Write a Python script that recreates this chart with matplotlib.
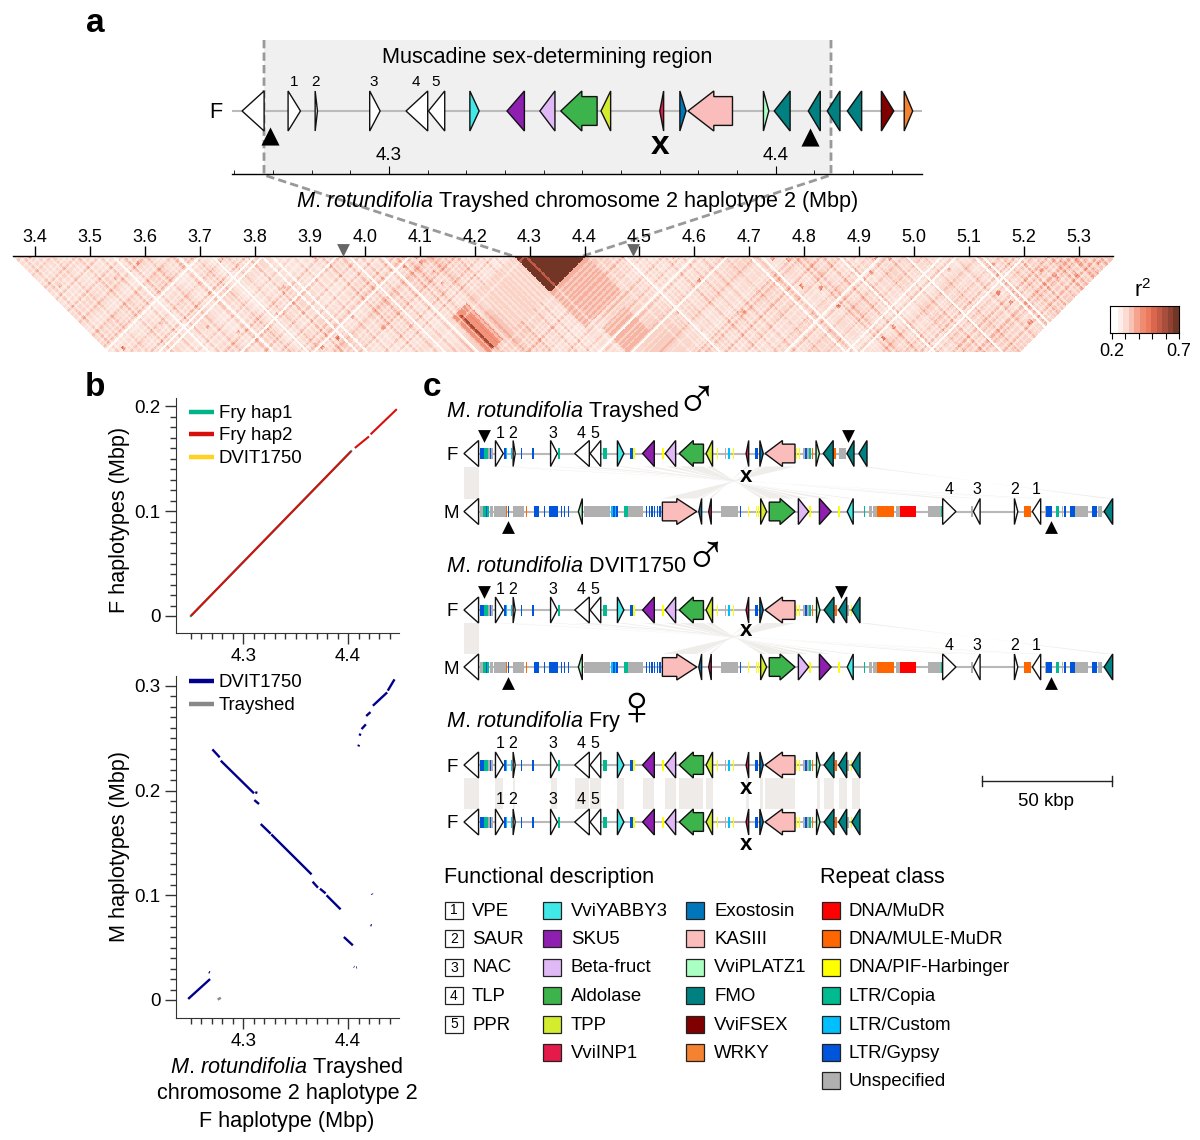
import numpy as np
import matplotlib
matplotlib.use("Agg")
import matplotlib.pyplot as plt
from matplotlib.colors import LinearSegmentedColormap, ListedColormap
from matplotlib.patches import Polygon, Rectangle

plt.rcParams['font.family'] = ['Liberation Sans', 'DejaVu Sans']
plt.rcParams['mathtext.fontset'] = 'custom'
plt.rcParams['mathtext.rm'] = 'Liberation Sans'
plt.rcParams['mathtext.it'] = 'Liberation Sans:italic'
W, H = 1200, 1140

# gene colours
gene_names = ['VviYABBY3', 'SKU5', 'Beta-fruct', 'Aldolase', 'TPP', 'VviINP1', 'Exostosin', 'KASIII',
              'VviPLATZ1', 'FMO', 'VviFSEX', 'WRKY']
gene_cols = ['#40e8e8', '#8e1fb0', '#e0b8f5', '#3cb44b', '#d4ec2e', '#e6194b', '#0077bb', '#fbbcbc',
             '#aaffc3', '#008080', '#800000', '#f58231']
num_names = ['VPE', 'SAUR', 'NAC', 'TLP', 'PPR']
rep_names = ['DNA/MuDR', 'DNA/MULE-MuDR', 'DNA/PIF-Harbinger', 'LTR/Copia', 'LTR/Custom', 'LTR/Gypsy', 'Unspecified']
rep_cols = ['#ff0000', '#ff6600', '#ffff00', '#00bb8f', '#00bfff', '#0055dd', '#b0b0b0']
GC = dict(zip(gene_names, gene_cols))
GC['w'] = 'white'
RC = dict(zip(['R', 'O', 'Y', 'C', 'U', 'G', 'N'], rep_cols))

# panel a, genes in Mbp: start, end, strand, class
genes_a = [(4.2620, 4.2677, -1, 'w'), (4.2739, 4.2771, 1, 'w'), (4.2809, 4.2815, 1, 'w'), (4.2950, 4.2977, 1, 'w'),
           (4.3044, 4.3100, -1, 'w'), (4.3102, 4.3144, -1, 'w'), (4.3209, 4.3233, 1, 'VviYABBY3'),
           (4.3305, 4.3350, -1, 'SKU5'), (4.3390, 4.3429, -1, 'Beta-fruct'), (4.3444, 4.3538, -1, 'Aldolase'),
           (4.3548, 4.3573, -1, 'TPP'), (4.3700, 4.3710, -1, 'VviINP1'), (4.3752, 4.3768, 1, 'Exostosin'),
           (4.3773, 4.3888, -1, 'KASIII'), (4.3968, 4.3982, 1, 'VviPLATZ1'), (4.3996, 4.4037, -1, 'FMO'),
           (4.4084, 4.4115, -1, 'FMO'), (4.4133, 4.4166, -1, 'FMO'), (4.4185, 4.4222, -1, 'FMO'),
           (4.4273, 4.4305, 1, 'VviFSEX'), (4.4332, 4.4354, 1, 'WRKY')]

# panel c, genes in kb from the start of each haplotype
genes_f = [(0, 5.6, -1, 'w'), (12.1, 15.1, 1, 'w'), (18.9, 19.7, 1, 'w'), (33.3, 35.9, 1, 'w'), (42.6, 48.2, -1, 'w'),
           (48.5, 52.6, -1, 'w'), (59.0, 61.5, 1, 'VviYABBY3'), (68.7, 73.2, -1, 'SKU5'), (77.4, 81.4, -1, 'Beta-fruct'),
           (82.8, 92.1, -1, 'Aldolase'), (93.1, 95.6, -1, 'TPP'), (108.5, 109.5, -1, 'VviINP1'),
           (113.8, 115.1, 1, 'Exostosin'), (115.8, 127.3, -1, 'KASIII')]
tail_tray = [(135.4, 136.7, 1, 'VviPLATZ1'), (138.2, 142.0, -1, 'FMO'), (147.3, 150.0, -1, 'FMO'), (151.9, 155.0, -1, 'FMO')]
tail_other = [(135.6, 136.9, 1, 'VviPLATZ1'), (138.5, 142.3, -1, 'FMO'), (144.1, 147.2, -1, 'FMO'), (149.2, 152.3, -1, 'FMO')]
genes_m = [(0, 5.6, -1, 'w'), (44.0, 45.5, -1, 'VviPLATZ1'), (76.3, 89.5, 1, 'KASIII'), (90.3, 91.4, -1, 'Exostosin'),
           (94.1, 95.1, -1, 'VviINP1'), (114.1, 116.4, 1, 'TPP'), (117.4, 127.3, 1, 'Aldolase'),
           (128.6, 132.6, 1, 'Beta-fruct'), (136.7, 141.2, 1, 'SKU5'), (147.4, 149.7, -1, 'VviYABBY3'),
           (184.1, 189.2, 1, 'w'), (195.9, 198.5, -1, 'w'), (211.7, 213.0, 1, 'w'), (218.6, 221.8, -1, 'w'),
           (246.2, 249.5, -1, 'FMO')]

# repeats: start, end, class
reps_f = [(6.2, 7.6, 'G'), (7.6, 9.1, 'C'), (9.1, 10.0, 'N'), (10.0, 10.4, 'G'), (10.4, 11.0, 'N'), (15.4, 16.3, 'G'),
          (16.3, 16.7, 'U'), (18.1, 18.4, 'U'), (22.0, 22.3, 'G'), (26.2, 27.1, 'G'), (36.3, 36.9, 'C'), (53.6, 54.9, 'C'),
          (63.8, 65.1, 'G'), (65.1, 65.8, 'Y'), (76.2, 76.9, 'Y'), (97.2, 97.6, 'Y'), (100.4, 100.8, 'N'), (101.5, 102.3, 'U'),
          (103.6, 103.8, 'Y'), (111.9, 113.2, 'G'), (127.7, 128.1, 'Y'), (129.0, 129.4, 'Y'), (130.5, 131.2, 'N'),
          (131.2, 131.8, 'G'), (131.8, 132.8, 'N'), (132.8, 133.3, 'C'), (133.7, 134.4, 'O')]
reps_tail_tray = [(142.3, 143.0, 'O'), (144.3, 146.8, 'N')]
reps_tail_other = [(142.6, 143.6, 'O'), (147.2, 148.2, 'N'), (148.9, 149.1, 'Y')]
reps_m = [(6.2, 7.2, 'N'), (7.2, 8.5, 'C'), (8.5, 9.0, 'G'), (9.0, 9.7, 'C'), (10.0, 11.3, 'N'), (11.7, 16.0, 'N'),
          (15.8, 16.5, 'O'), (16.9, 17.2, 'G'), (18.7, 23.1, 'N'), (23.8, 24.2, 'O'), (27.0, 29.0, 'G'), (30.8, 31.2, 'G'),
          (32.8, 36.3, 'G'), (37.3, 37.6, 'G'), (38.6, 38.8, 'G'), (40.1, 40.4, 'G'), (46.2, 56.2, 'N'), (47.6, 47.9, 'O'),
          (53.8, 54.2, 'R'), (56.4, 57.4, 'U'), (57.4, 58.2, 'G'), (58.2, 58.5, 'U'), (58.5, 59.2, 'G'), (61.5, 63.2, 'C'),
          (63.2, 68.7, 'N'), (70.0, 70.5, 'G'), (71.0, 71.5, 'G'), (72.1, 72.6, 'G'), (73.1, 73.6, 'G'), (74.1, 74.6, 'G'),
          (75.1, 75.6, 'G'), (98.8, 105.3, 'N'), (106.2, 106.4, 'G'), (109.4, 109.6, 'Y'), (112.3, 112.6, 'Y'),
          (113.2, 113.6, 'Y'), (132.8, 133.5, 'Y'), (143.9, 144.5, 'Y'), (153.8, 154.4, 'C'), (155.9, 156.9, 'N'),
          (157.3, 158.7, 'N'), (158.8, 165.2, 'O'), (165.2, 165.5, 'Y'), (166.2, 167.7, 'N'), (167.7, 173.7, 'R'),
          (178.5, 183.6, 'N'), (183.6, 184.0, 'C'), (194.9, 195.6, 'N'), (215.2, 218.0, 'O'), (223.3, 223.9, 'N'),
          (223.9, 226.2, 'G'), (227.5, 229.0, 'C'), (230.0, 230.5, 'N'), (230.8, 231.5, 'G'), (233.1, 235.0, 'G'),
          (235.0, 240.0, 'N'), (241.7, 243.4, 'G'), (243.9, 245.5, 'N')]

# synteny F -> M, inverted blocks cross at the x
syn_f = [(115.8, 127.3), (113.8, 115.1), (108.5, 109.5), (93.1, 95.6), (82.8, 92.1), (77.4, 81.4), (68.7, 73.2), (59.0, 61.5),
         (42.6, 48.2), (33.3, 35.9), (18.9, 19.7), (12.1, 15.1), (151.9, 155.0)]
syn_m = [(76.3, 89.5), (90.3, 91.4), (94.1, 95.1), (114.1, 116.4), (117.4, 127.3), (128.6, 132.6), (136.7, 141.2), (147.4, 149.7),
         (184.1, 189.2), (195.9, 198.5), (211.7, 213.0), (218.6, 221.8), (246.2, 249.5)]

# panel b, dotplot segments
fry1 = ([4.25, 4.403], [0.0, 0.157])
fry2 = ([4.25, 4.403, None, 4.4065, 4.42, None, 4.4215, 4.4465], [0.0, 0.157, None, 0.16, 0.171, None, 0.173, 0.197])
dvit_x = [(4.2475, 4.2684), (4.2672, 4.2682), (4.2706, 4.2776), (4.2786, 4.3103), (4.3115, 4.3135), (4.3106, 4.3151), (4.3167, 4.3262),
          (4.3268, 4.3652), (4.3662, 4.3713), (4.3732, 4.3786), (4.3795, 4.3929), (4.396, 4.4046), (4.4055, 4.406), (4.4078, 4.4084),
          (4.4215, 4.4225), (4.4228, 4.4231), (4.4098, 4.4105), (4.411, 4.4118), (4.4129, 4.417), (4.4173, 4.4214), (4.4237, 4.4373), (4.4379, 4.4443)]
dvit_y = [(0.001, 0.020), (0.0267, 0.0262), (0.2394, 0.2318), (0.2286, 0.1974), (0.1985, 0.1978), (0.191, 0.1872), (0.1681, 0.1589),
          (0.1582, 0.12), (0.113, 0.1073), (0.1063, 0.1019), (0.1, 0.0866), (0.0602, 0.0522), (0.0317, 0.0315), (0.031, 0.0312),
          (0.0716, 0.0712), (0.1015, 0.1008), (0.2422, 0.2438), (0.2525, 0.2545), (0.2588, 0.2633), (0.2713, 0.275), (0.2811, 0.2938), (0.2955, 0.3063)]
tray_x = (4.2757, 4.2786)
tray_y = (0.0003, 0.0022)

# panel a heat map, r2 estimates
ld_base = 0.295
# relative LD of each 0.02 Mbp bin from 3.36 Mbp
ld_weight = [0.95, 1.0, 1.05, 0.9, 0.95, 1.0, 1.1, 0.95, 0.9, 1.0, 1.05, 1.1, 1.0, 0.9, 1.05, 1.15, 1.2, 0.85, 0.95, 1.05,
             1.0, 1.1, 1.05, 0.95, 0.85, 0.8, 0.85, 1.0, 1.1, 1.05, 1.0, 0.95, 0.9, 1.0, 1.05, 1.1, 1.05, 1.15, 1.2, 1.25,
             1.1, 1.0, 0.95, 0.9, 0.9, 0.95, 0.9, 0.85, 1.05, 1.15, 1.15, 1.15, 1.15, 1.15, 1.1, 1.1, 1.05, 0.9, 0.95, 1.0,
             1.05, 1.0, 0.95, 1.0, 1.05, 1.0, 1.1, 1.05, 0.9, 0.95, 1.0, 1.1, 1.05, 1.15, 1.05, 1.0, 0.95, 1.05, 1.1, 1.0,
             0.95, 1.0, 1.05, 1.0, 0.95, 0.9, 0.85, 1.0, 1.05, 1.1, 1.15, 1.1, 1.05, 1.1, 1.15, 1.1, 1.25, 1.2, 1.15, 1.2]
# blocks: p0, p1, q0, q1, r2
ld_blocks = [(4.27, 4.402, 4.402, 4.53, 0.365), (4.30, 4.38, 4.56, 4.66, 0.36), (4.14, 4.27, 4.27, 4.402, 0.31),
             (4.045, 4.10, 4.27, 4.402, 0.41), (4.06, 4.068, 4.28, 4.40, 0.62), (4.08, 4.085, 4.29, 4.40, 0.54),
             (4.27, 4.402, 4.27, 4.402, 0.72)]
# hot spots: centre along the axis, depth below the axis, r2
spot_mid = [3.389, 3.56, 3.587, 3.444, 3.546, 3.629, 3.713, 3.737, 3.769, 3.839, 3.851, 3.908, 3.922, 3.95, 3.977, 4.033, 4.072, 4.093,
            4.102, 4.124, 4.141, 4.47, 4.561, 4.567, 4.607, 4.61, 4.652, 4.687, 4.741, 4.77, 4.794, 4.829, 4.861, 4.889, 4.92, 4.93,
            4.943, 4.954, 4.961, 5.063, 5.143, 5.152, 5.174, 5.209, 5.231, 5.258, 5.265, 5.293, 5.3, 5.334]
spot_depth = [0.002, 0.167, 0.013, 0.053, 0.04, 0.122, 0.129, 0.007, 0.14, 0.107, 0.058, 0.002, 0.167, 0.149, 0.111, 0.129, 0.02, 0.002,
              0.011, 0.029, 0.049, 0.004, 0.002, 0.104, 0.045, 0.135, 0.002, 0.102, 0.004, 0.007, 0.055, 0.058, 0.091, 0.002, 0.031, 0.004,
              0.149, 0.004, 0.129, 0.025, 0.013, 0.066, 0.084, 0.12, 0.025, 0.038, 0.011, 0.035, 0.013, 0.011]
spot_r2 = [0.42, 0.5, 0.42, 0.38, 0.38, 0.38, 0.38, 0.42, 0.42, 0.38, 0.42, 0.42, 0.45, 0.5, 0.38, 0.4, 0.46, 0.46,
           0.46, 0.42, 0.42, 0.42, 0.4, 0.38, 0.5, 0.38, 0.42, 0.42, 0.42, 0.45, 0.48, 0.5, 0.5, 0.4, 0.42, 0.42,
           0.48, 0.42, 0.46, 0.38, 0.4, 0.45, 0.44, 0.46, 0.42, 0.42, 0.42, 0.46, 0.42, 0.44]
# white bands: loci with weak LD towards the right (p) or the left (q)
white_p = [3.657, 3.81, 3.83, 3.97, 4.03, 4.47, 4.70, 4.72, 4.86, 5.108, 5.122, 4.985, 3.54, 3.72]
white_q = [3.80, 3.815, 4.08, 4.66, 4.94, 5.076, 5.05, 4.60, 3.95, 3.70, 5.20]
# narrow lighter and darker lines
fine_light = [3.369, 3.382, 3.397, 3.41, 3.423, 3.447, 3.457, 3.468, 3.482, 3.496, 3.509, 3.523, 3.538, 3.551, 3.566, 3.579, 3.592, 3.618, 3.629,
              3.641, 3.663, 3.673, 3.684, 3.694, 3.712, 3.731, 3.743, 3.756, 3.767, 3.778, 3.791, 3.846, 3.858, 3.874, 3.884, 3.893, 3.911,
              3.926, 3.937, 3.948, 3.963, 3.984, 3.998, 4.012, 4.027, 4.047, 4.061, 4.083, 4.094, 4.106, 4.136, 4.148, 4.158, 4.171, 4.183,
              4.194, 4.206, 4.218, 4.228, 4.241, 4.252, 4.263, 4.292, 4.418, 4.429, 4.441, 4.452, 4.462, 4.478, 4.489, 4.502, 4.514, 4.525,
              4.536, 4.549, 4.562, 4.571, 4.583, 4.597, 4.618, 4.629, 4.641, 4.658, 4.677, 4.689, 4.731, 4.744, 4.758, 4.766, 4.776, 4.788,
              4.812, 4.823, 4.838, 4.849, 4.873, 4.886, 4.904, 4.913, 4.926, 4.944, 4.957, 4.968, 5.004, 5.013, 5.022, 5.034, 5.043, 5.062,
              5.091, 5.134, 5.142, 5.153, 5.168, 5.179, 5.192, 5.213, 5.227, 5.238, 5.251, 5.266, 5.279, 5.296, 5.312, 5.327, 5.341, 5.355]
fine_dark = [3.375, 3.43, 3.475, 3.516, 3.56, 3.60, 3.65, 3.69, 3.745, 3.784, 3.868, 3.882, 3.92, 3.955, 3.99, 4.02, 4.055, 4.072, 4.118, 4.165, 4.21,
             4.235, 4.43, 4.47, 4.505, 4.544, 4.574, 4.61, 4.654, 4.71, 4.745, 4.78, 4.795, 4.83, 4.868, 4.915, 4.95, 4.98, 5.014, 5.07, 5.115,
             5.156, 5.185, 5.215, 5.245, 5.262, 5.288, 5.30, 5.335]
ld_cols = ['#ffffff', '#fdeee9', '#fbdcd2', '#f8c3b5', '#f4a48f', '#f08a70', '#ee7a5e', '#d9674e', '#c25a45', '#a84e3c', '#8e4232', '#733626']


def px_axes(x0, y0, x1, y1, z=1):
    ax = fig.add_axes([x0 / W, 1 - y1 / H, (x1 - x0) / W, (y1 - y0) / H], zorder=z)
    ax.patch.set_visible(False)
    return ax


def draw_genes(ax, genes, y, half, lw=1.0):
    for a, b, s, c in genes:
        tip, base = (b, a) if s == 1 else (a, b)
        if c in ('Aldolase', 'KASIII'):
            neck = tip + (base - tip) * 0.58
            sh = half * 0.72
            pts = [(tip, y), (neck, y - half), (neck, y - sh), (base, y - sh), (base, y + sh), (neck, y + sh), (neck, y + half)]
        else:
            pts = [(tip, y), (base, y - half), (base, y + half)]
        ax.add_patch(Polygon(pts, closed=True, fc=GC[c], ec='#111111', lw=lw, zorder=4))


def draw_track(ax, genes, reps, y, x_end):
    ax.plot([0, x_end], [y, y], color='#b8b8b8', lw=1.5, zorder=2, solid_capstyle='butt')
    for cl, col in RC.items():
        segs = [(a, b - a) for a, b, k in reps if k == cl]
        if segs:
            ax.broken_barh(segs, (y - 5.5, 11), color=col, lw=0, zorder=3)
    draw_genes(ax, genes, y, 13)


fig = plt.figure(figsize=(W / 100, H / 100), dpi=100)
ov = fig.add_axes([0, 0, 1, 1], zorder=0)
top = fig.add_axes([0, 0, 1, 1], zorder=5)
for a in [ov, top]:
    a.set_xlim(0, W)
    a.set_ylim(H, 0)
    a.axis('off')

FS = 15.6
ITAL = r'$\mathit{M.\,rotundifolia}$'

for lab, x, y in [('a', 95, 24), ('b', 95, 388), ('c', 432, 388)]:
    ov.text(x, y, lab, fontsize=24, fontweight='bold', ha='center', va='center')

# ---- panel a
ov.add_patch(Rectangle((264, 40), 567, 134, fc='#f0f0f0', ec='none'))
dash = dict(color='#999999', lw=2, ls=(0, (3, 1.5)))
ov.plot([264, 264, 513], [40, 175, 256], **dash)
ov.plot([831, 831, 583], [40, 175, 256], **dash)
ov.text(547, 58, 'Muscadine sex-determining region', fontsize=FS, ha='center', va='center')
ov.text(216, 112, 'F', fontsize=FS, ha='center', va='center')
for s, x in zip('12345', [294, 315, 374, 416, 436]):
    ov.text(x, 82, s, fontsize=11, ha='center', va='center')
ov.text(577, 201, ITAL + ' Trayshed chromosome 2 haplotype 2 (Mbp)', fontsize=FS, ha='center', va='center')
top.scatter([270, 810], [136, 137], marker='^', s=170, c='black', lw=0)
top.text(660, 145, 'x', fontsize=24, fontweight='bold', ha='center', va='center')

ax_a = px_axes(232, 60, 922, 174)
ax_a.set_xlim(4.2594, 4.4378)
ax_a.set_ylim(174, 60)
for sp in ['top', 'left', 'right']:
    ax_a.spines[sp].set_visible(False)
ax_a.spines['bottom'].set_linewidth(1)
ax_a.set_yticks([])
ax_a.set_xticks([4.3, 4.4])
ax_a.set_xticks(np.arange(4.26, 4.4378, 0.01), minor=True)
ax_a.tick_params(axis='x', which='major', direction='in', length=6, labelbottom=False)
ax_a.tick_params(axis='x', which='minor', direction='in', length=3)
for v in [4.3, 4.4]:
    ax_a.text(v, 156, '%.1f' % v, fontsize=13.5, ha='center', va='center')
ax_a.plot([4.2595, 4.4378], [111, 111], color='#bbbbbb', lw=1.5, zorder=2)
draw_genes(ax_a, genes_a, 111, 20)

# heat map
ax_h = px_axes(13, 256, 1113, 352)
mbp_px = 549.5
x_left = 3.4 - (35 - 13) / mbp_px
x_right = 3.4 + (1113 - 35) / mbp_px
ax_h.set_xlim(x_left, x_right)
ax_h.set_ylim(96 / mbp_px, 0)
step = 0.003
loci = np.arange(x_left, x_right + step, step)
edges = np.append(loci, loci[-1] + step)
P, Q = np.meshgrid(loci, loci, indexing='ij')
bins = np.clip(((loci - 3.36) / 0.02).astype(int), 0, len(ld_weight) - 1)
w = np.array(ld_weight)[bins]
V = 0.2 + (ld_base - 0.2) * np.outer(w, w)
for g in fine_dark:
    V[(np.abs(P - g) < step) | (np.abs(Q - g) < step)] *= 1.14
for a, b, c, d, r in ld_blocks:
    V[(P >= a) & (P < b) & (Q >= c) & (Q < d)] = r
for m, dep, r in zip(spot_mid, spot_depth, spot_r2):
    V[(np.abs(P - (m - dep)) < 0.005) & (np.abs(Q - (m + dep)) < 0.005)] = r
for g in fine_light:
    hit = (np.abs(P - g) < step * 0.75) | (np.abs(Q - g) < step * 0.75)
    V[hit] = 0.2 + (V[hit] - 0.2) * 0.7
for g in white_p:
    V[np.abs(P - g) < 0.003] = 0.215
for g in white_q:
    V[np.abs(Q - g) < 0.003] = 0.215
V = np.ma.masked_where((Q < P) | (Q - P > 0.36), V)
PE, QE = np.meshgrid(edges, edges, indexing='ij')
ld_map = LinearSegmentedColormap.from_list('ld', ld_cols)
ax_h.pcolormesh((PE + QE) / 2, (QE - PE) / 2, V, cmap=ld_map, vmin=0.2, vmax=0.7, antialiased=False, rasterized=True)
for sp in ['bottom', 'left', 'right']:
    ax_h.spines[sp].set_visible(False)
ax_h.spines['top'].set_linewidth(1)
ax_h.set_yticks([])
ax_h.xaxis.tick_top()
hticks = np.round(np.arange(3.4, 5.31, 0.1), 1)
ax_h.set_xticks(hticks)
ax_h.set_xticklabels(['%.1f' % t for t in hticks], fontsize=13)
ax_h.tick_params(axis='x', length=7, width=1, pad=0)
top.scatter([343, 633], [250, 250], marker='v', s=85, c='#666666', lw=0)

# colour bar
ax_cb = px_axes(1110, 306, 1179, 333)
bands = np.linspace(0.2, 0.7, len(ld_cols) + 1)
ax_cb.pcolormesh(bands, [0, 1], (bands[:-1] + bands[1:]).reshape(1, -1) / 2, cmap=ListedColormap(ld_cols), vmin=0.2, vmax=0.7)
ax_cb.set_yticks([])
ax_cb.set_xticks([0.2, 0.3, 0.4, 0.5, 0.6, 0.7])
ax_cb.set_xticklabels(['0.2', '', '', '', '', '0.7'], fontsize=13)
ax_cb.tick_params(axis='x', length=4, width=0.8, pad=3)
ax_cb.set_xlim(0.185, 0.7)
ov.text(1143, 291, r'r$^2$', fontsize=FS, ha='center', va='center')

# ---- panel b
xl = (4.2359, 4.4486)
ax_b1 = px_axes(176, 398, 399, 633)
ax_b2 = px_axes(176, 676, 399, 1018)
ax_b1.set_ylim((616 - 633) / 1050, (616 - 398) / 1050)
ax_b2.set_ylim(-0.0172, 0.3095)
ax_b1.set_yticks([0, 0.1, 0.2])
ax_b1.set_yticklabels(['0', '0.1', '0.2'])
ax_b1.set_yticks(np.arange(0, 0.205, 0.01), minor=True)
ax_b2.set_yticks([0, 0.1, 0.2, 0.3])
ax_b2.set_yticklabels(['0', '0.1', '0.2', '0.3'])
ax_b2.set_yticks(np.arange(0, 0.305, 0.01), minor=True)
for axb in [ax_b1, ax_b2]:
    axb.set_xlim(xl)
    for sp in ['top', 'right']:
        axb.spines[sp].set_visible(False)
    axb.spines['left'].set_color('#333333')
    axb.spines['bottom'].set_color('#333333')
    axb.set_xticks([4.3, 4.4])
    axb.set_xticklabels(['4.3', '4.4'])
    axb.set_xticks(np.arange(4.25, 4.449, 0.01), minor=True)
    axb.tick_params(which='major', length=8, width=1, labelsize=13.5, color='#333333', pad=3)
    axb.tick_params(which='minor', length=4, width=1, color='#333333')
ax_b1.plot(fry1[0], fry1[1], color='#00b48a', lw=1.5)
ax_b1.plot(fry2[0], fry2[1], color='#d7100e', lw=1.5, solid_capstyle='butt')
for xs, ys in zip(dvit_x, dvit_y):
    ax_b2.plot(xs, ys, color='#00008b', lw=1.7, solid_capstyle='butt')
ax_b2.plot(tray_x, tray_y, color='#888888', lw=1.7, solid_capstyle='butt')
for name, col, y in [('Fry hap1', '#00b48a', 412), ('Fry hap2', '#d7100e', 434), ('DVIT1750', '#ffd21f', 457),
                     ('DVIT1750', '#00008b', 681), ('Trayshed', '#888888', 704)]:
    ov.plot([189, 214], [y, y], color=col, lw=3.2, solid_capstyle='butt')
    ov.text(219, y + 1.5, name, fontsize=13.4, ha='left', va='center')
ov.text(120, 520, 'F haplotypes (Mbp)', fontsize=FS, rotation=90, ha='center', va='center')
ov.text(120, 847, 'M haplotypes (Mbp)', fontsize=FS, rotation=90, ha='center', va='center')
ov.text(287, 1067, ITAL + ' Trayshed', fontsize=FS, ha='center', va='center')
ov.text(287, 1094, 'chromosome 2 haplotype 2', fontsize=FS, ha='center', va='center')
ov.text(287, 1121, 'F haplotype (Mbp)', fontsize=FS, ha='center', va='center')

# ---- panel c
ax_c = px_axes(440, 395, 1130, 860)
ax_c.set_xlim((440 - 464) / 2.6, (1130 - 464) / 2.6)
ax_c.set_ylim(860, 395)
ax_c.axis('off')
rib = '#eeebe8'
for yf, ym in [(453.5, 511.5), (610, 667)]:
    ax_c.add_patch(Polygon([(0, yf + 13), (5.6, yf + 13), (5.6, ym - 13), (0, ym - 13)], fc=rib, ec='none', zorder=1))
    for f, m in zip(syn_f, syn_m):
        ax_c.add_patch(Polygon([(f[0], yf + 13), (f[1], yf + 13), (m[0], ym - 13), (m[1], ym - 13)], fc=rib, ec='none', alpha=0.9, zorder=1))
for a, b, s, c in genes_f + tail_other:
    ax_c.add_patch(Polygon([(a, 778), (b, 778), (b, 809), (a, 809)], fc=rib, ec='none', zorder=1))
draw_track(ax_c, genes_f + tail_tray, reps_f + reps_tail_tray, 453.5, 155)
draw_track(ax_c, genes_m, reps_m, 511.5, 249.5)
draw_track(ax_c, genes_f + tail_other, reps_f + reps_tail_other, 610, 152.3)
draw_track(ax_c, genes_m, reps_m, 667, 249.5)
draw_track(ax_c, genes_f + tail_other, reps_f + reps_tail_other, 765, 152.3)
draw_track(ax_c, genes_f + tail_other, reps_f + reps_tail_other, 822, 152.3)

for name, sym, x, y, sx, sy in [('Trayshed', '\u2642', 446, 411, 696, 403), ('DVIT1750', '\u2642', 446, 566, 705, 559), ('Fry', '\u2640', 446, 722, 636, 710)]:
    ov.text(x, y, ITAL + ' ' + name, fontsize=FS, ha='left', va='center')
    ov.text(sx, sy, sym, fontsize=42, family='Liberation Sans', ha='center', va='center')
for lab, x, y in [('F', 452, 456), ('M', 451, 513), ('F', 452, 612), ('M', 451, 669), ('F', 452, 767), ('F', 452, 824)]:
    ov.text(x, y, lab, fontsize=13.5, ha='center', va='center')
for y in [433, 589, 744, 800]:
    for s, x in zip('12345', [500, 513, 553, 581, 595]):
        top.text(x, y, s, fontsize=11.5, ha='center', va='center')
for y in [489, 645]:
    for s, x in zip('4321', [949, 977, 1015, 1036]):
        top.text(x, y, s, fontsize=11.5, ha='center', va='center')
for y in [477, 632, 789, 845]:
    top.text(746, y - 1, 'x', fontsize=16, fontweight='bold', ha='center', va='center')
top.scatter([484, 848, 484, 841], [436, 436, 592, 592], marker='v', s=85, c='black', lw=0)
top.scatter([508, 1051, 508, 1051], [527, 527, 683, 683], marker='^', s=85, c='black', lw=0)

# scale bar
ov.plot([982, 1112], [781, 781], color='#222222', lw=1)
ov.plot([982, 982], [776, 786], color='#222222', lw=1)
ov.plot([1112, 1112], [776, 786], color='#222222', lw=1)
ov.text(1046, 801, '50 kbp', fontsize=13.4, ha='center', va='center')

# legends
ov.text(444, 878, 'Functional description', fontsize=FS, ha='left', va='center')
ov.text(820, 878, 'Repeat class', fontsize=FS, ha='left', va='center')
rows = [910, 938.5, 967, 995.5, 1024, 1052.5, 1080.5]
for i, nm in enumerate(num_names):
    ov.add_patch(Rectangle((445, rows[i] - 8.5), 18, 17, fc='white', ec='#222222', lw=0.9))
    ov.text(454, rows[i] + 0.5, str(i + 1), fontsize=10, ha='center', va='center')
    ov.text(472, rows[i] + 1, nm, fontsize=13.4, ha='left', va='center')
for i, (nm, col) in enumerate(zip(gene_names, gene_cols)):
    x = [543, 686][i // 6]
    y = rows[i % 6]
    ov.add_patch(Rectangle((x, y - 8.5), 18, 17, fc=col, ec='#222222', lw=0.9))
    ov.text(x + 28, y + 1, nm, fontsize=13.4, ha='left', va='center')
for i, (nm, col) in enumerate(zip(rep_names, rep_cols)):
    ov.add_patch(Rectangle((822, rows[i] - 8.5), 18, 17, fc=col, ec='#222222', lw=0.9))
    ov.text(849, rows[i] + 1, nm, fontsize=13.4, ha='left', va='center')

fig.savefig('out.png', dpi=100)
